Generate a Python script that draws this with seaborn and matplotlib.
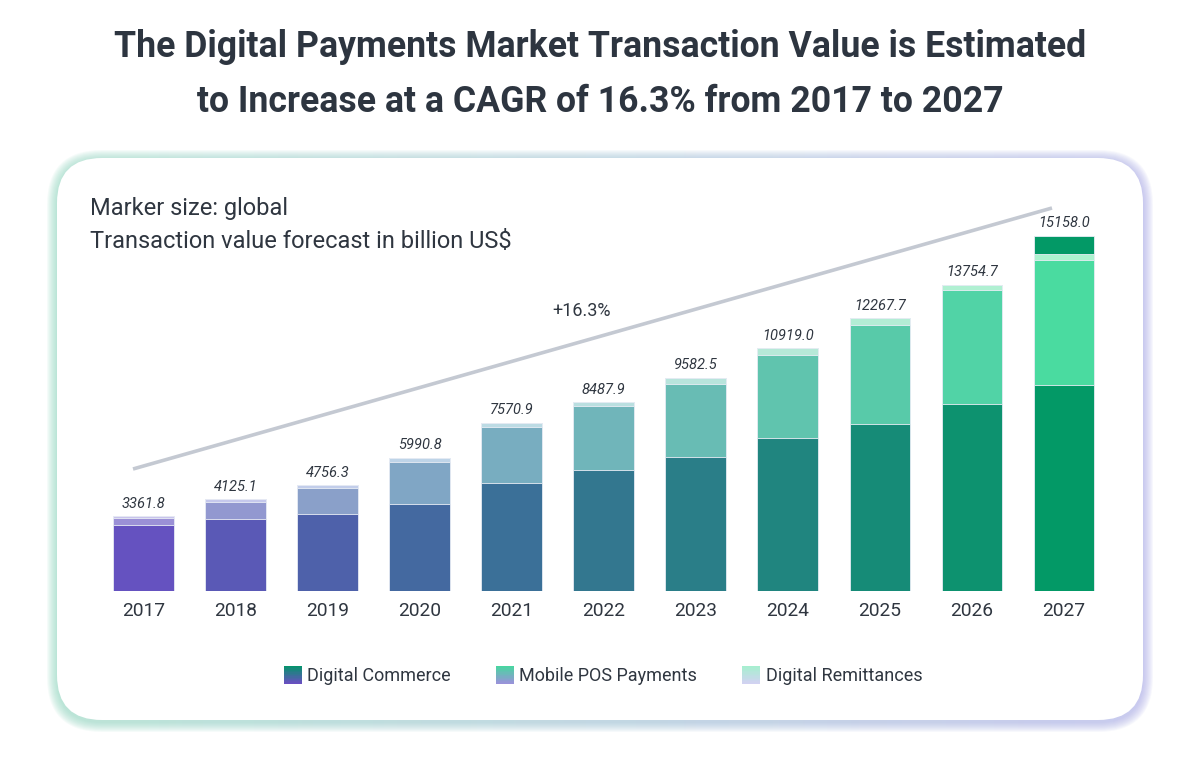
import numpy as np
import pandas as pd
import matplotlib
matplotlib.use("Agg")
import matplotlib.pyplot as plt
import seaborn as sns
from matplotlib.patches import FancyBboxPatch, Rectangle
from matplotlib.legend_handler import HandlerBase
from matplotlib.colors import to_rgb

# ---------------- data ----------------
years = ["2017", "2018", "2019", "2020", "2021", "2022", "2023", "2024", "2025", "2026", "2027"]
totals = [3361.8, 4125.1, 4756.3, 5990.8, 7570.9, 8487.9, 9582.5, 10919.0, 12267.7, 13754.7, 15158.0]
digital_commerce = [2964, 3239, 3468, 3896, 4872, 5426, 6033, 6898, 7513, 8406, 9238]
mobile_pos = [332, 765, 1167, 1915, 2519, 2883, 3283, 3720, 4454, 5124, 5619]
remittances = [66, 121, 121, 180, 180, 179, 266, 301, 301, 225, 301]
top_cap = [0, 0, 0, 0, 0, 0, 0, 0, 0, 0, 820]   # extra dark cap drawn on the 2027 bar
series_names = ["Digital Commerce", "Mobile POS Payments", "Digital Remittances"]
cagr_label = "+16.3%"

commerce_colors = ["#6552c0", "#5a59b6", "#4e61aa", "#4469a0", "#3b7098", "#33778f",
                   "#2a7e88", "#20857f", "#168b77", "#0d926f", "#039966"]
pos_colors = ["#9b90d6", "#9298d0", "#8aa0c9", "#80a6c5", "#78adc0", "#70b5ba",
              "#68bcb4", "#60c4ae", "#58caa9", "#51d3a6", "#4adba0"]
rem_colors = ["#c8c3ec", "#c5c8ec", "#c2cdea", "#bed4e8", "#bcdbe4", "#badfe0",
              "#b8e4dc", "#b6e9d8", "#b3edd5", "#b0f0d2", "#acf3cf"]

text_color = "#2f3640"

sns.set_theme(style="white")
plt.rcParams["font.family"] = ["Roboto", "DejaVu Sans"]

W, H = 1201, 781
fig = plt.figure(figsize=(W / 100, H / 100), dpi=100)
fig.patch.set_facecolor("white")

# ---------------- background card ----------------
bg = fig.add_axes([0, 0, 1, 1], zorder=0)
bg.set_xlim(0, W)
bg.set_ylim(H, 0)
bg.axis("off")

cx0, cy0, cx1, cy1 = 57, 158, 1143, 720
left_c = np.array(to_rgb("#8fd8bf"))
right_c = np.array(to_rgb("#a9a9e8"))
t = np.linspace(0, 1, 256)
grad = (left_c[None, :] * (1 - t[:, None]) + right_c[None, :] * t[:, None])[None, :, :]
for d in range(10, 0, -1):
    p = FancyBboxPatch((cx0 - d, cy0 - d + 2), (cx1 - cx0) + 2 * d, (cy1 - cy0) + 2 * d,
                       boxstyle=f"round,pad=0,rounding_size={45 + d}",
                       facecolor="none", edgecolor="none", transform=bg.transData)
    bg.add_patch(p)
    im = bg.imshow(grad, extent=[cx0 - 20, cx1 + 20, cy1 + 20, cy0 - 20], aspect="auto",
                   alpha=0.085, interpolation="bilinear")
    im.set_clip_path(p)
card = FancyBboxPatch((cx0, cy0), cx1 - cx0, cy1 - cy0,
                      boxstyle="round,pad=0,rounding_size=45",
                      facecolor="white", edgecolor="none", transform=bg.transData, zorder=5)
bg.add_patch(card)
bg.plot([133, 1052], [469, 208], color="#c4c9d2", lw=2.6, solid_capstyle="butt", zorder=6)

# ---------------- bars ----------------
ax = fig.add_axes([97.5 / W, 1 - 591 / H, (1110 - 97.5) / W, (591 - 200) / H], zorder=1)
ax.patch.set_alpha(0)

df = pd.DataFrame({
    "year": years,
    "commerce": digital_commerce,
    "pos": mobile_pos,
    "rem": remittances,
    "cap": top_cap,
})
df["lvl_commerce"] = df["commerce"]
df["lvl_pos"] = df["commerce"] + df["pos"]
df["lvl_rem"] = df["lvl_pos"] + df["rem"]
df["lvl_cap"] = df["lvl_rem"] + df["cap"]

edge = "#e9edf5"
layers = [("lvl_cap", commerce_colors), ("lvl_rem", rem_colors),
          ("lvl_pos", pos_colors), ("lvl_commerce", commerce_colors)]
for col, pal in layers:
    sns.barplot(data=df, x="year", y=col, hue="year", palette=pal, legend=False,
                width=0.66, edgecolor=edge, linewidth=0.6, saturation=1, ax=ax)

for i, (tot, cap) in enumerate(zip(totals, df["lvl_cap"])):
    ax.annotate(f"{tot:.1f}", (i, cap), xytext=(0, 4), textcoords="offset points",
                ha="center", va="bottom", fontsize=10.5, style="italic", color=text_color)

ax.set_xlim(-0.5, 10.5)
ax.set_ylim(0, 391 * 44.95)
ax.set_xlabel("")
ax.set_ylabel("")
ax.set_yticks([])
ax.tick_params(axis="x", length=0, pad=8, labelsize=13.8, labelcolor=text_color)
for s in ax.spines.values():
    s.set_visible(False)

# ---------------- texts ----------------
fig.text(0.5, 1 - 47 / H, "The Digital Payments Market Transaction Value is Estimated",
         ha="center", va="center", fontsize=25.7, fontweight="bold", color="#2d3540")
fig.text(0.5, 1 - 102 / H, "to Increase at a CAGR of 16.3% from 2017 to 2027",
         ha="center", va="center", fontsize=25.7, fontweight="bold", color="#2d3540")
fig.text(90 / W, 1 - 208 / H, "Marker size: global", ha="left", va="center",
         fontsize=17, color=text_color, zorder=10)
fig.text(90 / W, 1 - 241 / H, "Transaction value forecast in billion US$", ha="left",
         va="center", fontsize=17, color=text_color, zorder=10)
fig.text(582 / W, 1 - 311 / H, cagr_label, ha="center", va="center", fontsize=13,
         color=text_color, zorder=10)

# ---------------- legend ----------------
class GradHandler(HandlerBase):
    def __init__(self, c_bot, c_top, n=14):
        super().__init__()
        self.c_bot = np.array(to_rgb(c_bot))
        self.c_top = np.array(to_rgb(c_top))
        self.n = n

    def create_artists(self, legend, orig_handle, xdescent, ydescent, width, height,
                       fontsize, trans):
        side = width
        arts = []
        x0 = -xdescent
        y0 = -ydescent + (height - side) / 2
        hs = side / self.n
        for k in range(self.n):
            f = k / (self.n - 1)
            c = self.c_bot * (1 - f) + self.c_top * f
            r = Rectangle((x0, y0 + k * hs), side, hs * 1.05, facecolor=c,
                          edgecolor="none", transform=trans)
            arts.append(r)
        return arts

handles = [Rectangle((0, 0), 1, 1) for _ in series_names]
handlers = {
    handles[0]: GradHandler("#6a4fc2", "#05936c"),
    handles[1]: GradHandler("#9a92da", "#48d6a0"),
    handles[2]: GradHandler("#d2d2f2", "#a6efcf"),
}
leg = fig.legend(handles, series_names, handler_map=handlers, loc="center",
                 bbox_to_anchor=(603 / W, 1 - 676 / H), ncol=3, frameon=False,
                 fontsize=13, handlelength=1.0, handleheight=1.0, handletextpad=0.3,
                 columnspacing=2.5, labelcolor=text_color)
leg.set_zorder(10)

fig.savefig("out.png", dpi=100, facecolor="white")
